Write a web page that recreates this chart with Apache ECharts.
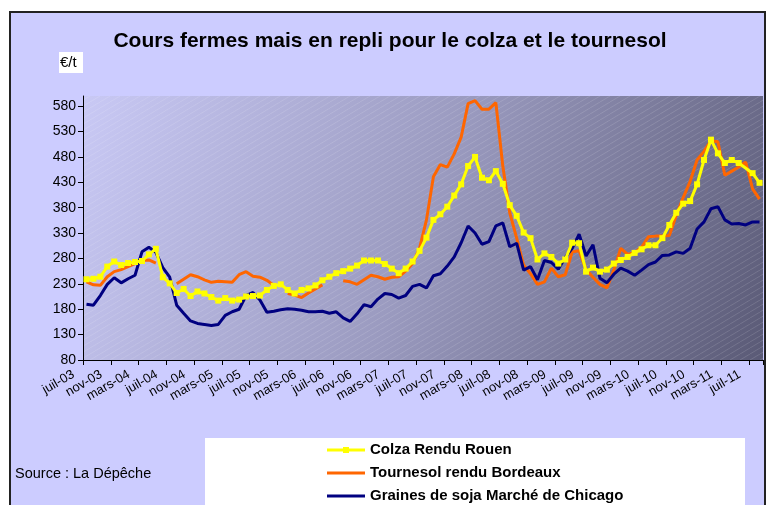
<!DOCTYPE html>
<html>
<head>
<meta charset="utf-8">
<script src="https://cdn.jsdelivr.net/npm/echarts@6/dist/echarts.min.js"></script>
<style>
html,body{margin:0;padding:0;background:#fff;}
#c{width:767px;height:505px;}
</style>
</head>
<body>
<div id="c"></div>
<script>
// Monthly categories, juil-03 .. août-11
const categories = [
 'juil-03','août-03','sept-03','oct-03','nov-03','déc-03',
 'janv-04','févr-04','mars-04','avr-04','mai-04','juin-04','juil-04','août-04','sept-04','oct-04','nov-04','déc-04',
 'janv-05','févr-05','mars-05','avr-05','mai-05','juin-05','juil-05','août-05','sept-05','oct-05','nov-05','déc-05',
 'janv-06','févr-06','mars-06','avr-06','mai-06','juin-06','juil-06','août-06','sept-06','oct-06','nov-06','déc-06',
 'janv-07','févr-07','mars-07','avr-07','mai-07','juin-07','juil-07','août-07','sept-07','oct-07','nov-07','déc-07',
 'janv-08','févr-08','mars-08','avr-08','mai-08','juin-08','juil-08','août-08','sept-08','oct-08','nov-08','déc-08',
 'janv-09','févr-09','mars-09','avr-09','mai-09','juin-09','juil-09','août-09','sept-09','oct-09','nov-09','déc-09',
 'janv-10','févr-10','mars-10','avr-10','mai-10','juin-10','juil-10','août-10','sept-10','oct-10','nov-10','déc-10',
 'janv-11','févr-11','mars-11','avr-11','mai-11','juin-11','juil-11','août-11'
];

const colza = [239,240,244,264,274,267,271,273,275,288, 299,243,231,212,220,206,215,211,204,197,
 202,197,199,205,206,207,218,226,229,218, 211,218,221,227,237,244,251,255,260,266,
 276,276,276,269,260,251,260,274,295,321, 356,367,382,404,426,462,480,439,434,452,
 427,385,364,331,320,278,290,283,270,278, 311,310,254,262,254,258,270,277,283,291,
 298,306,306,320,346,370,388,393,426,474, 514,487,468,474,468,null,448,429];

const tournesol = [234,228,227,244,254,258,264,270,276,277, 271,null,null,230,239,248,244,238,233,235,
 234,233,248,254,245,243,237,227,null,211, 208,203,212,220,228,null,null,236,234,229,
 238,247,244,239,243,244,255,270,300,356, 441,465,460,486,519,585,591,574,574,587,
 462,370,320,267,250,229,234,261,244,248, 293,295,258,243,229,222,257,300,288,292,
 302,323,324,324,325,365,400,432,474,491, 512,510,444,452,460,470,417,397];

const soja = [190,188,207,229,242,232,240,247,293,302, 292,262,243,188,172,157,152,150,148,150,
 168,175,180,207,213,198,174,176,179,181, 180,178,175,175,176,172,175,163,156,171,
 189,185,200,211,209,202,207,225,229,222, 246,250,265,283,311,344,330,308,313,344,
 350,303,310,257,264,238,276,272,259,282, 300,328,285,307,241,232,249,261,255,247,
 257,268,273,286,287,293,290,300,338,352, 378,382,356,348,349,346,352,352];

const seriesNames = ['Colza Rendu Rouen','Tournesol rendu Bordeaux','Graines de soja Marché de Chicago'];
const titleText = 'Cours fermes mais en repli pour le colza et le tournesol';
const unitText = '€/t';
const sourceText = 'Source : La Dépêche';

const FONT = '"Liberation Sans", Arial, sans-serif';

// faint diagonal hatch tile for the plot area
const tile = document.createElement('canvas');
tile.width = 10; tile.height = 6;
(function(){
  const g = tile.getContext('2d');
  g.strokeStyle = 'rgba(255,255,255,0.13)';
  g.lineWidth = 1;
  g.beginPath(); g.moveTo(0,6); g.lineTo(10,0); g.stroke();
})();

const chart = echarts.init(document.getElementById('c'), null, {renderer:'canvas'});

chart.setOption({
  animation: false,
  backgroundColor: '#ffffff',
  graphic: [
    {type:'rect', z:-100, shape:{x:10,y:12,width:755,height:510},
     style:{fill:'#CCCCFF', stroke:'#222', lineWidth:2}},
    {type:'rect', z:1, silent:true, shape:{x:84,y:96,width:679,height:264},
     style:{fill:{image:tile, repeat:'repeat'}}},
    {type:'text', z:10, x:390, y:41,
     style:{text:titleText, fill:'#000', font:'bold 21px '+FONT, align:'center', verticalAlign:'middle'}},
    {type:'rect', z:9, shape:{x:59,y:52,width:24,height:21}, style:{fill:'#fff'}},
    {type:'text', z:10, x:60, y:63,
     style:{text:unitText, fill:'#000', font:'15px '+FONT, verticalAlign:'middle'}},
    {type:'rect', z:9, shape:{x:205,y:438,width:540,height:80}, style:{fill:'#fff'}},
    {type:'rect', z:30, shape:{x:343,y:447,width:6,height:6}, style:{fill:'#FFFF00'}},
    {type:'text', z:10, x:15, y:474,
     style:{text:sourceText, fill:'#000', font:'14.5px '+FONT, verticalAlign:'middle'}}
  ],
  grid: {
    left: 83, top: 96, right: 4, bottom: 145, show: true, borderWidth: 0,
    backgroundColor: new echarts.graphic.LinearGradient(0,0,1,1,[
      {offset:0, color:'#C9C9F5'},
      {offset:0.5, color:'#9A9ABF'},
      {offset:1, color:'#5A5A76'}
    ])
  },
  legend: {
    orient:'vertical', left:327, top:441, itemWidth:38, itemHeight:3, itemGap:5,
    padding:0, itemTextGap:3, z:20, icon:'rect',
    data: seriesNames,
    textStyle:{color:'#000', fontWeight:'bold', fontSize:15, lineHeight:18, fontFamily:FONT}
  },
  xAxis: {
    type:'category', data:categories, boundaryGap:true,
    axisLine:{lineStyle:{color:'#000', width:1}},
    axisTick:{show:true, interval:3, length:5, lineStyle:{color:'#000'}},
    axisLabel:{interval:3, rotate:30, color:'#000', fontSize:13, fontFamily:FONT, margin:6, padding:[0,15,0,0]},
    splitLine:{show:false}
  },
  yAxis: {
    type:'value', min:80, max:600, interval:50,
    axisLine:{show:true, lineStyle:{color:'#000', width:1}},
    axisTick:{show:true, length:5, lineStyle:{color:'#000'}},
    axisLabel:{color:'#000', fontSize:14, fontFamily:FONT, margin:7, showMaxLabel:false},
    splitLine:{show:false}
  },
  series: [
    {name:seriesNames[0], type:'line', data:colza, z:5, connectNulls:true,
     symbol:'rect', symbolSize:6, showAllSymbol:true,
     itemStyle:{color:'#FFFF00'}, lineStyle:{color:'#FFFF00', width:3}},
    {name:seriesNames[1], type:'line', data:tournesol, z:3, connectNulls:false,
     symbol:'none', itemStyle:{color:'#FF6600'}, lineStyle:{color:'#FF6600', width:3}},
    {name:seriesNames[2], type:'line', data:soja, z:4,
     symbol:'none', itemStyle:{color:'#000080'}, lineStyle:{color:'#000080', width:3}}
  ]
});
</script>
</body>
</html>
